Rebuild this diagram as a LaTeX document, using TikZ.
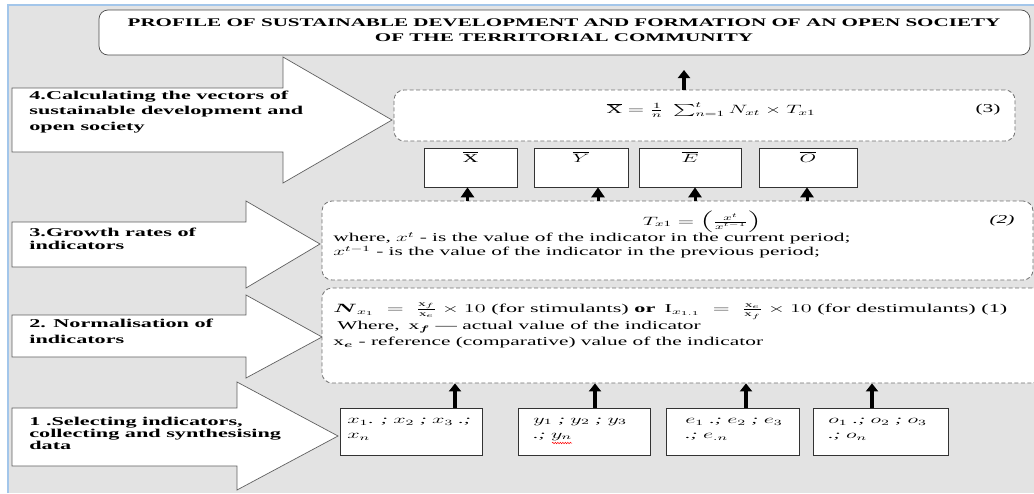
\documentclass[tikz,border=0pt]{standalone}
\usepackage{amsmath,amssymb}
\usepackage{graphicx}
\usepackage{fontspec}
\setmainfont{Liberation Serif}
\usetikzlibrary{positioning,arrows.meta,decorations.pathmorphing}

\definecolor{paneGray}{HTML}{E3E3E3}
\definecolor{frameBlue}{HTML}{A3C6EA}
\definecolor{dashGray}{HTML}{707070}

\begin{document}
\begin{tikzpicture}[
  x=1pt, y=-1pt,
  >=Triangle,
  blockarr/.style={fill=white, draw=gray!75!black, line width=0.7pt},
  titlebox/.style={draw=black!70, fill=white, rounded corners=9pt, line width=0.7pt, inner sep=0pt},
  formbox/.style={draw=dashGray, fill=white, dashed, dash pattern=on 4pt off 2.5pt, rounded corners=10pt, line width=0.8pt, inner sep=0pt},
  vecbox/.style={draw=black!80, fill=white, line width=0.7pt, inner sep=0pt, minimum height=39pt,
    text height=14pt, text depth=25pt, font=\fontsize{12}{14}\selectfont},
  databox/.style={draw=black!80, fill=white, line width=0.7pt, inner sep=0pt, minimum height=47pt},
  steplabel/.style={anchor=west, align=left, inner sep=0pt, xscale=1.85, font=\fontsize{12}{15}\selectfont\bfseries},
  formtext/.style={anchor=west, inner sep=0pt, xscale=1.78, font=\fontsize{12}{14}\selectfont},
  datatext/.style={anchor=west, align=left, inner sep=0pt, xscale=1.85, font=\fontsize{11.5}{15}\selectfont\itshape},
  uparr/.style={->, line width=3.6pt, arrows={-Triangle[width=12pt,length=8pt]}},
  headarr/.style={->, line width=3pt, arrows={-Triangle[width=13pt,length=10pt]}}
]
  \useasboundingbox (0,0) rectangle (1034,493);
  \clip (0,0) rectangle (1034,493);
  % background pane
  \fill[paneGray] (8,5) rectangle (1034,493);
  \draw[frameBlue, line width=1.6pt] (8,493) -- (8,5) -- (1034,5);

  % block arrows of the four stages
  \draw[blockarr] (12,88) -- (283,88) -- (283,57) -- (392,120) -- (283,183) -- (283,152) -- (12,152) -- cycle;
  \draw[blockarr] (12,222) -- (246,222) -- (246,201) -- (320,244) -- (246,288) -- (246,267) -- (12,267) -- cycle;
  \draw[blockarr] (12,315) -- (246,315) -- (246,295) -- (322,337) -- (246,378) -- (246,357) -- (12,357) -- cycle;
  \draw[blockarr] (12,408) -- (237,408) -- (237,382) -- (338,436) -- (237,490) -- (237,466) -- (12,466) -- cycle;
  \node[steplabel, font=\fontsize{12}{15.5}\selectfont\bfseries] (lab4) at (29,112) {4.Calculating the vectors of\\sustainable development and\\open society};
  \node[steplabel, font=\fontsize{12}{13}\selectfont\bfseries] (lab3) at (29,239) {3.Growth rates of\\indicators};
  \node[steplabel, font=\fontsize{12}{16}\selectfont\bfseries] (lab2) at (29,331) {2. Normalisation of\\indicators};
  \node[steplabel, font=\fontsize{12}{12}\selectfont\bfseries] (lab1) at (29,433) {1 .Selecting indicators,\\collecting and synthesising\\data};

  % title
  \node[titlebox, minimum width=931pt, minimum height=45pt] (profile) at (564.5,32.5) {};
  \node[align=center, inner sep=0pt, xscale=1.8, font=\fontsize{11.7}{15}\selectfont\bfseries] (proftext) at (564,30)
    {PROFILE OF SUSTAINABLE DEVELOPMENT AND FORMATION OF AN OPEN SOCIETY\\OF THE TERRITORIAL COMMUNITY};

  % formula boxes
  \node[formbox, minimum width=621pt, minimum height=51pt] (fthree) at (704.5,115.5) {};
  \node[formbox, minimum width=711pt, minimum height=79pt] (ftwo) at (677.5,240.5) {};
  \node[formbox, minimum width=720pt, minimum height=95pt] (fone) at (682,335.5) {};

  \node[formtext, anchor=center] (eqthree) at (711,110) {$\overline{\mathrm{X}} = \tfrac{1}{n}\;\sum\nolimits_{n=1}^{t} N_{xt}\times T_{x1}$};
  \node[formtext, anchor=center] (numthree) at (988,110) {(3)};
  \node[formtext, anchor=center] (eqtwo) at (702,222) {$T_{x1} = \left(\tfrac{x^{t}}{x^{t-1}}\right)$};
  \node[formtext, anchor=center] (numtwo) at (1002,221) {\textit{(2)}};
  \node[formtext] (curtext) at (333,238) {where, $x^{t}$ - is the value of the indicator in the current period;};
  \node[formtext] (prevtext) at (333,252) {$x^{t-1}$ - is the value of the indicator in the previous period;};
  \node[formtext, xscale=1.04] (eqone) at (333,311) {$\boldsymbol{N}_{x_1} \;=\; \tfrac{\mathrm{x}_f}{\mathrm{x}_e}\times 10$ (for stimulants) \textbf{or}\, $\mathrm{I}_{x_{1.1}} \;=\; \tfrac{\mathrm{x}_e}{\mathrm{x}_f}\times 10$ (for destimulants) (1)};
  \node[formtext] (acttext) at (337,327) {Where,\, $\mathrm{x}_{\boldsymbol{f}}$ --- actual value of the indicator};
  \node[formtext] (reftext) at (333,343) {$\mathrm{x}_{\boldsymbol{e}}$ - reference (comparative) value of the indicator};

  % vector boxes
  \node[vecbox, minimum width=93pt] (vx) at (470.5,167.5) {\scalebox{1.78}[1]{$\overline{\mathrm{X}}$}};
  \node[vecbox, minimum width=94pt] (vy) at (581,167.5) {\scalebox{1.78}[1]{$\overline{Y}$}};
  \node[vecbox, minimum width=102pt] (ve) at (690,167.5) {\scalebox{1.78}[1]{$\overline{E}$}};
  \node[vecbox, minimum width=98pt] (vo) at (808,167.5) {\scalebox{1.78}[1]{$\overline{O}$}};

  % data boxes
  \node[databox, minimum width=142pt] (bx) at (411,431.5) {};
  \node[databox, minimum width=132pt] (by) at (584,431.5) {};
  \node[databox, minimum width=133pt] (be) at (732.5,431.5) {};
  \node[databox, minimum width=135pt] (bo) at (880.5,431.5) {};
  \node[datatext] (bxtext) at (347,429) {$x_{1}$. ; $x_{2}$ ; $x_{3}$ .;\\$x_{n}$};
  \node[datatext] (bytext) at (533,429) {$y_{1}$ ; $y_{2}$ ; $y_{3}$\\.; $y_{n}$};
  \node[datatext] (betext) at (685,429) {$e_{1}$ .; $e_{2}$ ; $e_{3}$\\.; $e_{.n}$};
  \node[datatext] (botext) at (828,429) {$o_{1}$ .; $o_{2}$ ; $o_{3}$\\.; $o_{n}$};
  \draw[red, line width=0.5pt, decorate, decoration={snake, amplitude=0.7pt, segment length=2.5pt}] (552,443) -- (572,443);

  % arrows between the levels
  \coordinate (proftip) at (684,70);
  \draw[uparr] (fthree.north -| proftip) -- (proftip);
  \draw[headarr] ([xshift=-3pt]vx.south |- ftwo.north) -- ([xshift=-3pt]vx.south);
  \draw[headarr] ([xshift=17pt]vy.south |- ftwo.north) -- ([xshift=17pt]vy.south);
  \draw[headarr] ([xshift=5pt]ve.south |- ftwo.north) -- ([xshift=5pt]ve.south);
  \draw[headarr] ([xshift=-1pt]vo.south |- ftwo.north) -- ([xshift=-1pt]vo.south);
  \draw[uparr] ([xshift=44pt]bx.north) -- ([xshift=44pt]bx.north |- fone.south);
  \draw[uparr] ([xshift=11pt]by.north) -- ([xshift=11pt]by.north |- fone.south);
  \draw[uparr] ([xshift=13.5pt]be.north) -- ([xshift=13.5pt]be.north |- fone.south);
  \draw[uparr] ([xshift=-8.5pt]bo.north) -- ([xshift=-8.5pt]bo.north |- fone.south);
\end{tikzpicture}
\end{document}
